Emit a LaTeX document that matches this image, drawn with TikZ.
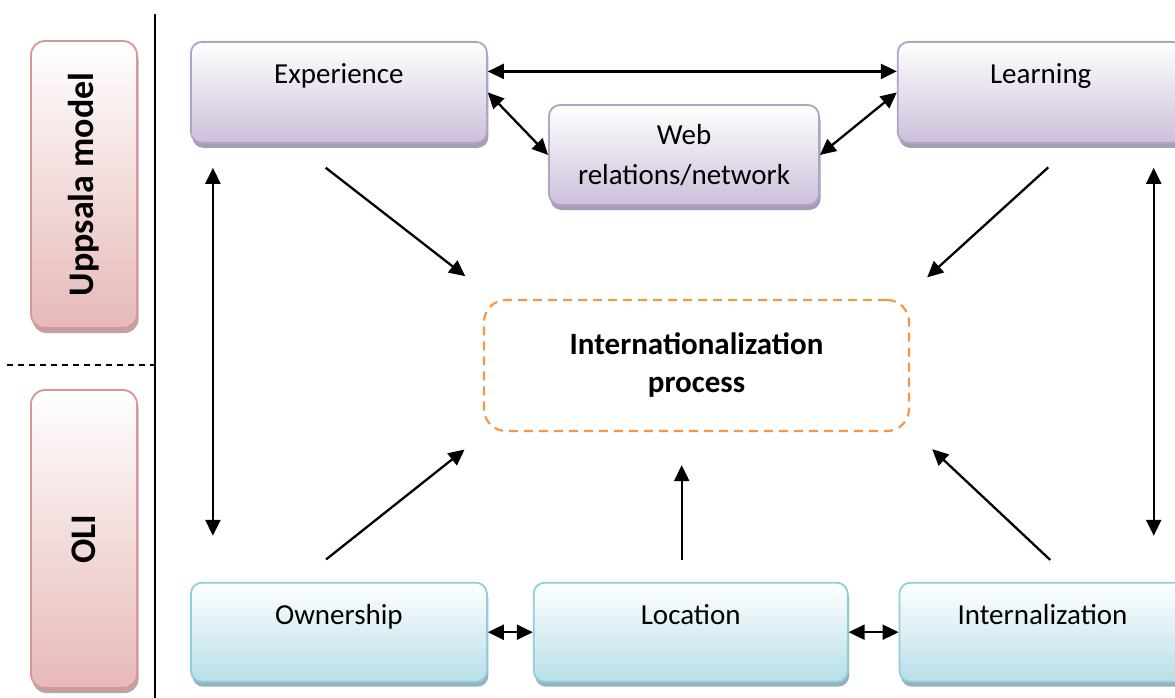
\documentclass[tikz,border=0pt]{standalone}
\usepackage{fontspec}
\setmainfont{Carlito}
\usetikzlibrary{arrows.meta,positioning,shadows}

\definecolor{purpleline}{HTML}{B3A2C7}
\definecolor{purplefill}{HTML}{CCC0DA}
\definecolor{purpleshade}{HTML}{A89BB6}
\definecolor{blueline}{HTML}{93CDDD}
\definecolor{bluefill}{HTML}{B7DEE8}
\definecolor{blueshade}{HTML}{94B2BA}
\definecolor{pinkline}{HTML}{D99694}
\definecolor{pinkfill}{HTML}{E6B9B8}
\definecolor{pinkshade}{HTML}{BFA3A3}
\definecolor{procline}{HTML}{F79646}

\begin{document}
\begin{tikzpicture}[x=1pt, y=-1pt, node distance=1cm,
    box/.style = {draw, rounded corners=11pt, line width=1.8pt, inner sep=0pt,
      font=\fontsize{29pt}{40pt}\selectfont},
    ubox/.style = {box, draw=purpleline, top color=white, bottom color=purplefill,
      drop shadow={shadow xshift=1.5pt, shadow yshift=-5pt, fill=purpleshade, opacity=1}},
    obox/.style = {box, draw=blueline, top color=white, bottom color=bluefill,
      text height=42pt, text depth=57pt, minimum height=99pt,
      drop shadow={shadow xshift=1.5pt, shadow yshift=-5pt, fill=blueshade, opacity=1}},
    sidebox/.style = {box, draw=pinkline, top color=white, bottom color=pinkfill,
      rounded corners=14pt, minimum width=106pt, font=\fontsize{36pt}{40pt}\selectfont\bfseries,
      drop shadow={shadow xshift=1.5pt, shadow yshift=-5pt, fill=pinkshade, opacity=1}},
    arr/.style = {-{Triangle[length=16pt,width=15pt]}, line width=2.3pt},
    darr/.style = {{Triangle[length=16pt,width=15pt]}-{Triangle[length=16pt,width=15pt]}, line width=2.3pt}]
\useasboundingbox (0,0) rectangle (1175,698);

% side labels
\node[sidebox, minimum height=287pt] (upp) at (84,184.5) {\rotatebox{90}{Uppsala model}};
\node[sidebox, minimum height=298pt] (oli) at (84,539) {\rotatebox{90}{OLI}};
\draw[line width=1.6pt] (155,14) -- (155,698);
\draw[line width=1.6pt, dash pattern=on 6pt off 5pt] (7,365) -- (155,365);

% Uppsala model
\node[ubox, anchor=north west, minimum width=296pt, text height=42pt, text depth=59pt] (exp) at (190,41) {Experience};
\node[ubox, right=409pt of exp, minimum width=286pt, text height=42pt, text depth=59pt] (lrn) {Learning};
\node[ubox, align=center, minimum width=270pt, minimum height=100pt] (web) at (684,155) {Web\\relations/network};

% OLI
\node[obox, below=438pt of exp.south west, anchor=north west, minimum width=296pt] (own) {Ownership};
\node[obox, right=45pt of own, minimum width=314pt] (loc) {Location};
\node[obox, right=50pt of loc, minimum width=286pt] (int) {Internalization};

% centre
\node[draw=procline, line width=2.2pt, dash pattern=on 9pt off 6pt, rounded corners=22pt,
      align=center, minimum width=425pt, minimum height=131pt,
      font=\fontsize{31pt}{38pt}\selectfont\bfseries] (proc) at (696.5,365.5) {Internationalization\\process};

\draw[darr] ([yshift=21pt]exp.east) -- ([yshift=21pt]lrn.west);
\draw[darr] (exp.east) -- (web.west);
\draw[darr] (web.east) -- (lrn.west);
\draw[darr] (own.east) -- (loc.west);
\draw[darr] (loc.east) -- (int.west);
\draw[darr, shorten <=24pt, shorten >=46pt] ([xshift=-126pt]exp.south) -- ([xshift=-126pt]exp.south |- own.north);
\draw[darr, shorten <=24pt, shorten >=46pt] ([xshift=113pt]lrn.south) -- ([xshift=113pt]lrn.south |- int.north);
\draw[arr, shorten <=39pt, shorten >=37pt] ([xshift=-44pt]exp.south) -- ([xshift=-202pt]proc.north);
\draw[arr, shorten <=35pt, shorten >=32pt] ([xshift=33.5pt]lrn.south) -- ([xshift=207pt]proc.north);
\draw[arr, shorten <=36pt, shorten >=28pt] ([xshift=-41pt]own.north) -- ([xshift=-210pt]proc.south);
\draw[arr, shorten <=22pt, shorten >=33pt] ([xshift=-9pt]loc.north) -- ([xshift=-9pt]loc.north |- proc.south);
\draw[arr, shorten <=32pt, shorten >=25pt] ([xshift=31pt]int.north) -- ([xshift=217.5pt]proc.south);
\end{tikzpicture}
\end{document}
